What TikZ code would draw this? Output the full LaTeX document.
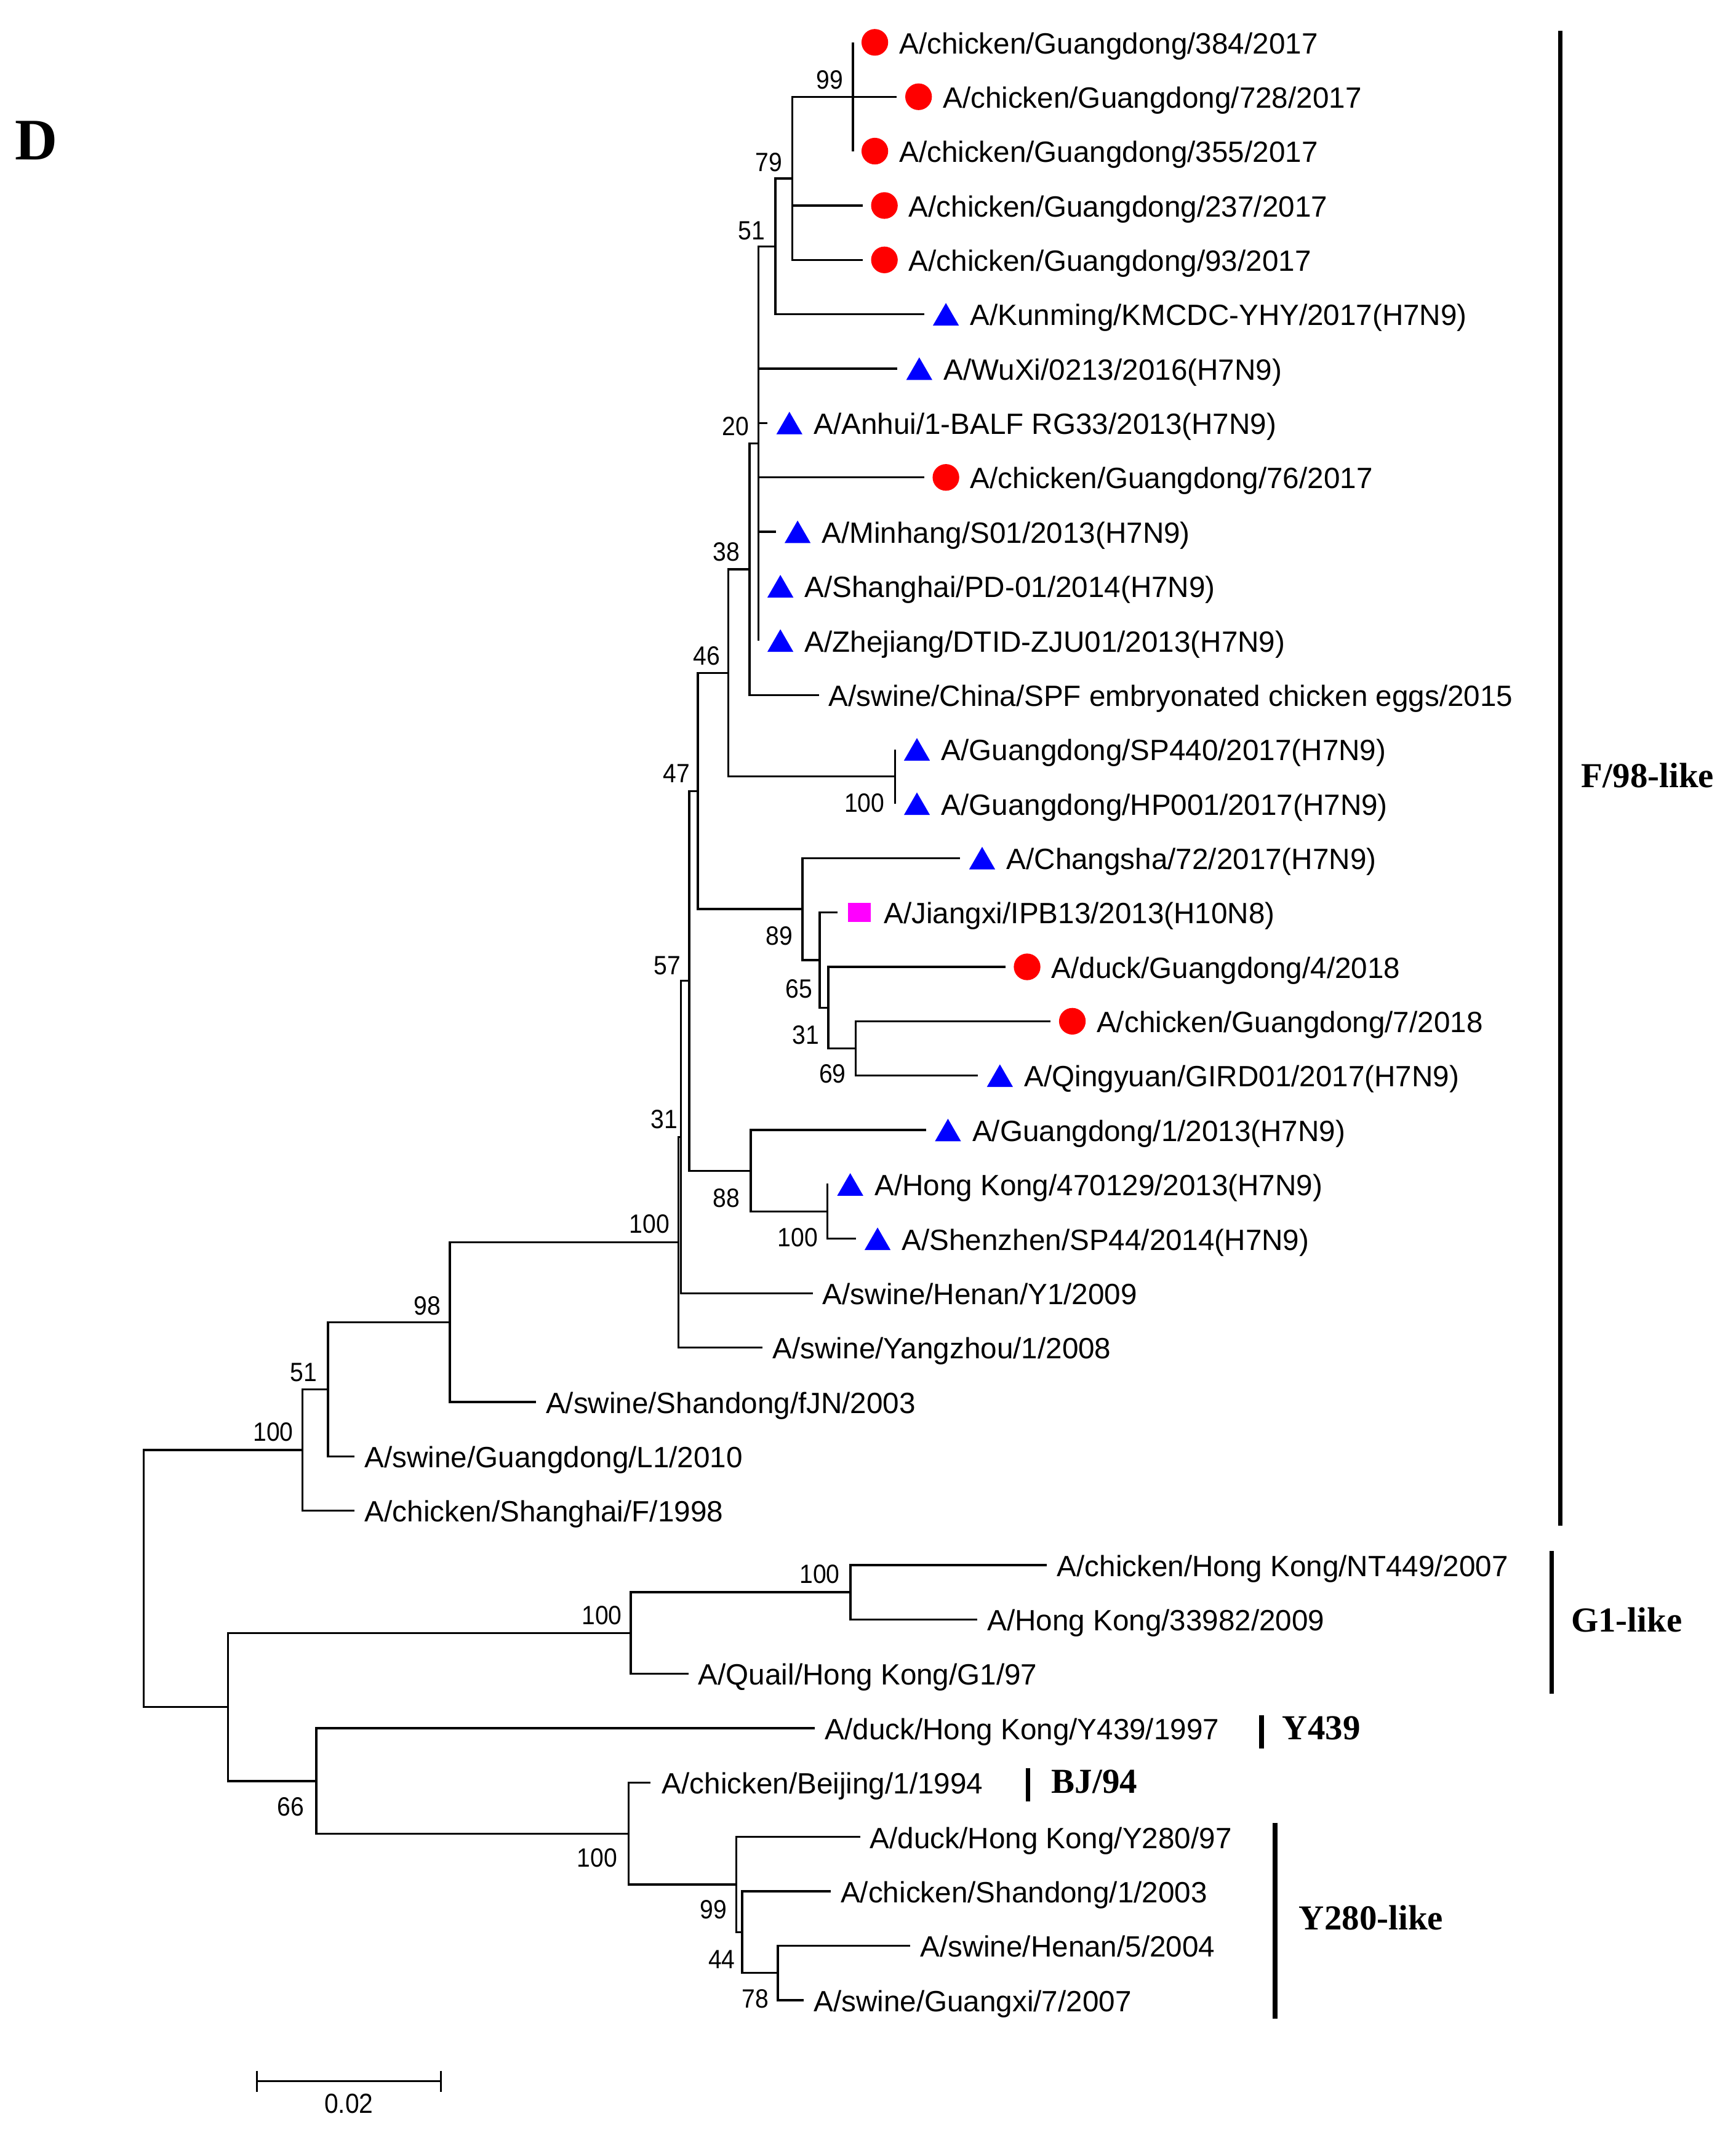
\documentclass[tikz,border=0pt]{standalone}
\usepackage{fontspec}
\setmainfont{Liberation Sans}
\newfontfamily\cladefont{Liberation Serif}
\newfontfamily\bootfont[FakeStretch=0.91]{Liberation Sans}
\usepackage{xcolor}
\definecolor{h10pink}{RGB}{255,0,255}
\usetikzlibrary{shapes.geometric}

\begin{document}
\begin{tikzpicture}[x=0.02cm,y=-0.02cm,
    branch/.style={line width=0.85pt},
    cladebar/.style={line width=1.8pt},
    taxon/.style={anchor=base west,inner sep=0pt,font=\fontsize{12.2}{14}\selectfont},
    boot/.style={inner sep=0pt,font=\bootfont\fontsize{11}{13}\selectfont},
    clade/.style={anchor=base west,inner sep=0pt,font=\cladefont\bfseries\fontsize{14.6}{17}\selectfont},
    redpt/.style={circle,fill=red,inner sep=0pt,minimum size=0.39cm},
    bluept/.style={regular polygon,regular polygon sides=3,fill=blue,inner sep=0pt,minimum size=0.44cm,yshift=-0.055cm},
    magpt/.style={rectangle,fill=h10pink,inner sep=0pt,minimum width=0.33cm,minimum height=0.28cm}]

\useasboundingbox (0,0) rectangle (1270,1567.6);

\node[anchor=base west,inner sep=0pt,font=\cladefont\bfseries\fontsize{24.5}{28}\selectfont] (panel) at (10.6,117) {D};

% internal nodes of the tree
\coordinate (n99) at (624,70.8);
\coordinate (n79) at (579.5,130.5);
\coordinate (n51a) at (567.3,180.2);
\coordinate (n20) at (554.9,324.4);
\coordinate (n38) at (548.4,416.4);
\coordinate (n100sp) at (654.8,568.0);
\coordinate (n46) at (532.9,492.2);
\coordinate (n69) at (626,766.9);
\coordinate (n31a) at (606,737.1);
\coordinate (n65) at (599.7,702.3);
\coordinate (n89) at (587,665.0);
\coordinate (n47) at (510.5,578.6);
\coordinate (n100hk) at (605.3,886.3);
\coordinate (n88) at (549.3,856.4);
\coordinate (n57) at (504.2,717.5);
\coordinate (n31b) at (498.2,831.7);
\coordinate (n100f) at (496.4,908.7);
\coordinate (n98) at (329.1,967.1);
\coordinate (n51b) at (240,1016.2);
\coordinate (n100fr) at (221.4,1060.6);
\coordinate (n100nt) at (622.1,1164.7);
\coordinate (n100g1) at (461.5,1194.6);
\coordinate (n78) at (569,1443.2);
\coordinate (n44) at (543,1413.4);
\coordinate (n99y) at (538.7,1378.5);
\coordinate (n100bj) at (459.8,1341.3);
\coordinate (n66) at (231.4,1302.8);
\coordinate (nG) at (166.7,1248.7);
\coordinate (root) at (105.1,1154.6);

\foreach \a/\b in {n79/n99,n51a/n79,n20/n51a,n38/n20,n46/n38,n46/n100sp,n47/n46,n47/n89,
    n89/n65,n65/n31a,n31a/n69,n57/n47,n57/n88,n88/n100hk,n31b/n57,n100f/n31b,n98/n100f,
    n51b/n98,n100fr/n51b,root/n100fr,root/nG,nG/n100g1,nG/n66,n100g1/n100nt,n66/n100bj,
    n100bj/n99y,n99y/n44,n44/n78}
  \draw[branch] (\a) |- (\b);

% leaves: number / branch end / parent / text offset / name
\foreach \i/\e/\p/\o/\t in {
  1/624/n99/33.5/{A/chicken/Guangdong/384/2017},
  2/656/n99/33.5/{A/chicken/Guangdong/728/2017},
  3/624/n99/33.5/{A/chicken/Guangdong/355/2017},
  4/631/n79/33.5/{A/chicken/Guangdong/237/2017},
  5/631/n79/33.5/{A/chicken/Guangdong/93/2017},
  6/676/n51a/33.5/{A/Kunming/KMCDC-YHY/2017(H7N9)},
  7/656.5/n20/33.5/{A/WuXi/0213/2016(H7N9)},
  8/561.5/n20/33.5/{A/Anhui/1-BALF RG33/2013(H7N9)},
  9/676/n20/33.5/{A/chicken/Guangdong/76/2017},
  10/567.5/n20/33.5/{A/Minhang/S01/2013(H7N9)},
  11/554.9/n20/33.5/{A/Shanghai/PD-01/2014(H7N9)},
  12/554.9/n20/33.5/{A/Zhejiang/DTID-ZJU01/2013(H7N9)},
  13/599/n38/7/{A/swine/China/SPF embryonated chicken eggs/2015},
  14/654.8/n100sp/33.5/{A/Guangdong/SP440/2017(H7N9)},
  15/654.8/n100sp/33.5/{A/Guangdong/HP001/2017(H7N9)},
  16/702.5/n89/33.5/{A/Changsha/72/2017(H7N9)},
  17/612.8/n65/33.5/{A/Jiangxi/IPB13/2013(H10N8)},
  18/735.4/n31a/33.5/{A/duck/Guangdong/4/2018},
  19/768.5/n69/33.5/{A/chicken/Guangdong/7/2018},
  20/715.5/n69/33.5/{A/Qingyuan/GIRD01/2017(H7N9)},
  21/677.5/n88/33.5/{A/Guangdong/1/2013(H7N9)},
  22/606/n100hk/33.5/{A/Hong Kong/470129/2013(H7N9)},
  23/626/n100hk/33.5/{A/Shenzhen/SP44/2014(H7N9)},
  24/594.5/n31b/7/{A/swine/Henan/Y1/2009},
  25/558/n100f/7/{A/swine/Yangzhou/1/2008},
  26/392/n98/7/{A/swine/Shandong/fJN/2003},
  27/259.5/n51b/7/{A/swine/Guangdong/L1/2010},
  28/259.5/n100fr/7/{A/chicken/Shanghai/F/1998},
  29/766/n100nt/7/{A/chicken/Hong Kong/NT449/2007},
  30/715/n100nt/7/{A/Hong Kong/33982/2009},
  31/503.6/n100g1/7/{A/Quail/Hong Kong/G1/97},
  32/596.2/n66/7/{A/duck/Hong Kong/Y439/1997},
  33/476/n100bj/8/{A/chicken/Beijing/1/1994},
  34/629.2/n99y/7/{A/duck/Hong Kong/Y280/97},
  35/607.7/n44/7/{A/chicken/Shandong/1/2003},
  36/665.8/n78/7/{A/swine/Henan/5/2004},
  37/588/n78/7/{A/swine/Guangxi/7/2007}}{
  \coordinate (t\i) at (\e,{31+(\i-1)*39.78});
  \draw[branch] (\p) |- (t\i);
  \node[taxon] (s\i) at (\e+\o,{39.2+(\i-1)*39.78}) {\t};
}

% markers
\foreach \i/\m in {1/redpt,2/redpt,3/redpt,4/redpt,5/redpt,6/bluept,7/bluept,8/bluept,
    9/redpt,10/bluept,11/bluept,12/bluept,14/bluept,15/bluept,16/bluept,17/magpt,
    18/redpt,19/redpt,20/bluept,21/bluept,22/bluept,23/bluept}
  \node[\m] (m\i) at ([xshift=0.32cm]t\i) {};

% bootstrap values
\foreach \v/\x/\y [count=\k] in {99/607/58.6,79/562.4/118.9,51/550/168.9,20/538/312,
    38/531.5/403.5,46/517/480,47/494.8/565.9,100/632.4/587.4,89/570.2/684.7,
    57/488.2/706.2,65/584.4/723.5,31/589.5/757,69/609/785.4,31/486/818.6,
    88/531.5/876.4,100/583.7/905.2,100/475.2/895.1,98/312.5/955.3,51/222.1/1004,
    100/199.9/1047.7,100/599.7/1151.6,100/440.3/1181.8,66/212.8/1321.7,
    100/436.8/1359.2,99/522.1/1397,44/528/1433.4,78/552.6/1462.3}
  \node[boot] (bs\k) at (\x,\y) {\v};

% lineage bars
\coordinate (f98a) at (1141.3,22.4);
\coordinate (f98b) at (1141.3,1116);
\draw[cladebar] (f98a) -- (f98b);
\node[clade] (f98) at (1156.6,576.1) {F/98-like};
\coordinate (g1a) at (1135,1134.7);
\coordinate (g1b) at (1135,1238.9);
\draw[cladebar] (g1a) -- (g1b);
\node[clade] (g1) at (1149,1193.7) {G1-like};
\coordinate (y439a) at (922.9,1254.7);
\coordinate (y439b) at (922.9,1278.8);
\draw[cladebar] (y439a) -- (y439b);
\node[clade] (y439) at (937.8,1272.4) {Y439};
\coordinate (bja) at (752,1293.2);
\coordinate (bjb) at (752,1317.9);
\draw[cladebar] (bja) -- (bjb);
\node[clade] (bj) at (769,1311.8) {BJ/94};
\coordinate (y280a) at (932.8,1333.3);
\coordinate (y280b) at (932.8,1476.6);
\draw[cladebar] (y280a) -- (y280b);
\node[clade] (y280) at (950,1411.8) {Y280-like};

% scale bar
\coordinate (sbl) at (188.1,1522.4);
\coordinate (sbr) at (322.5,1522.4);
\draw[branch] (sbl) -- (sbr);
\draw[branch] ([yshift=0.154cm]sbl) -- ([yshift=-0.154cm]sbl);
\draw[branch] ([yshift=0.154cm]sbr) -- ([yshift=-0.154cm]sbr);
\node[boot,font=\bootfont\fontsize{11.5}{13}\selectfont] (sblab) at (255.2,1538.9) {0.02};
\end{tikzpicture}
\end{document}
